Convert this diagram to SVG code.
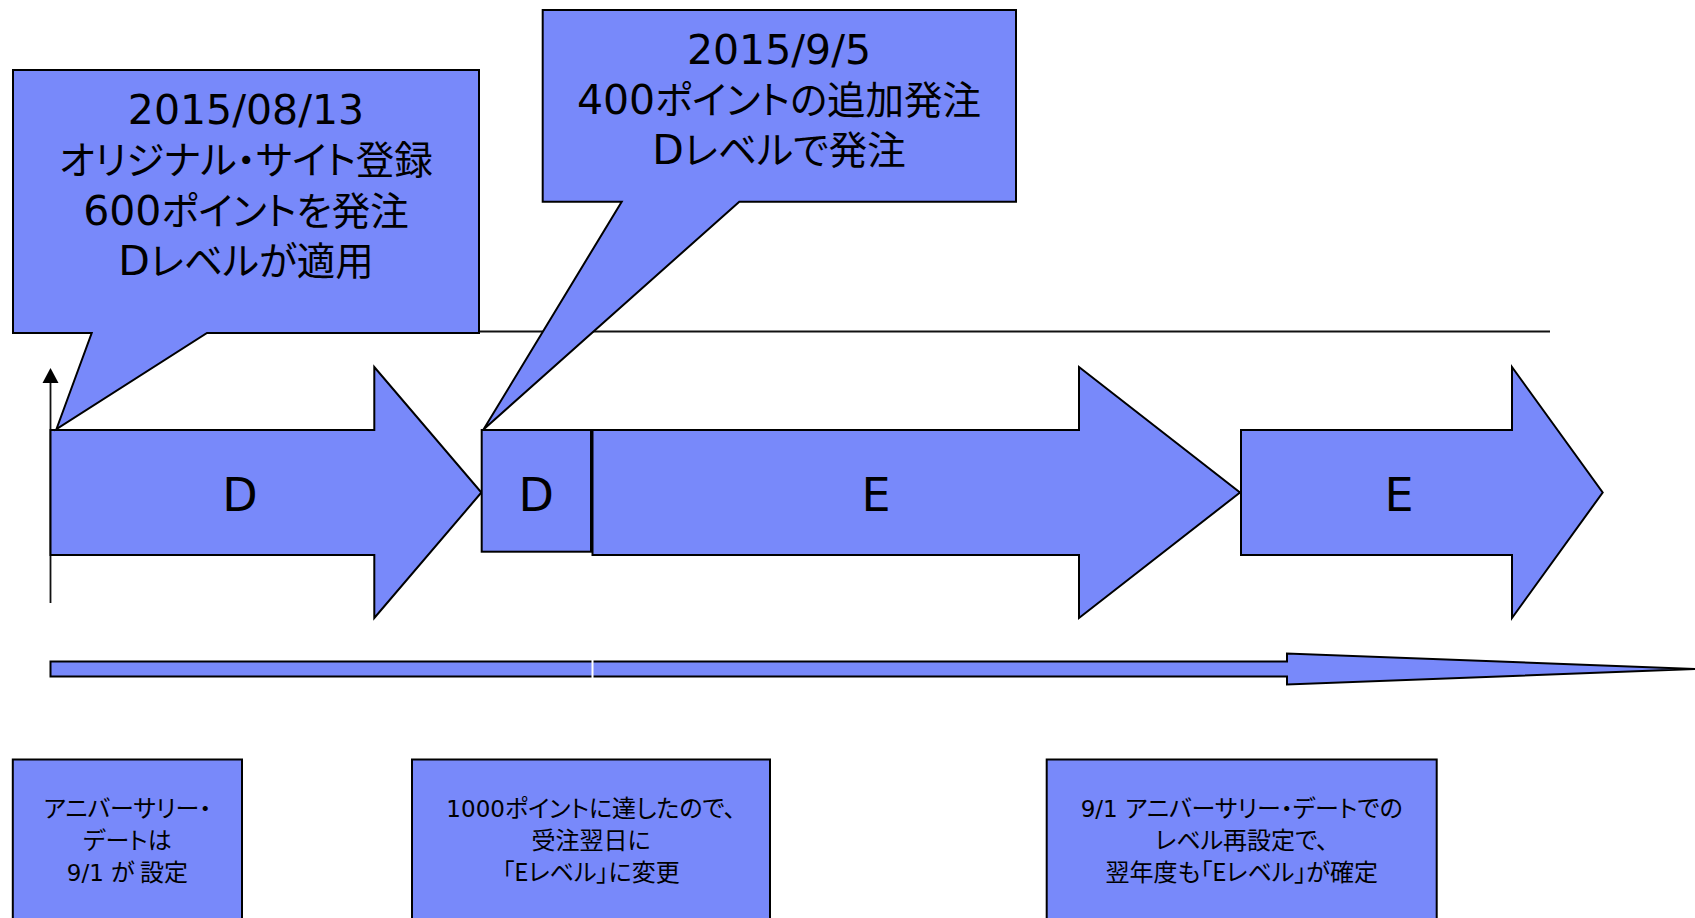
<svg xmlns="http://www.w3.org/2000/svg" width="1695" height="918" viewBox="0 0 1695 918">
<style>
.sh{fill:#7889fa;stroke:#000;stroke-width:2;stroke-linejoin:miter}
.ln{fill:none;stroke:#111;stroke-width:1.8}
.t{text-anchor:middle;fill:#000}
.la{font-family:"DejaVu Sans","Verdana",sans-serif}
.ja{font-family:"Noto Sans CJK JP","Noto Sans",sans-serif;font-feature-settings:"palt" 1}
.big{font-size:41px}
.bj{font-size:38.5px}
.lbl{font-size:46px;font-family:"DejaVu Sans","Verdana",sans-serif}
.sl{font-size:23px}
.sj{font-size:24px}
</style>
<rect width="1695" height="918" fill="#fff"/>
<g id="connectors">
<line class="ln" x1="479" y1="331.5" x2="1550" y2="331.5"/>
<line class="ln" x1="50.5" y1="603" x2="50.5" y2="380"/>
<polygon points="50.5,368 42.5,383 58.5,383" fill="#000"/>
</g>
<g id="arrow-d1">
<polygon class="sh" points="50.5,430 374.3,430 374.3,367 481.4,492.5 374.3,618 374.3,555 50.5,555"/>
<text class="t lbl" x="240" y="510.5">D</text>
</g>
<g id="box-d2">
<rect class="sh" x="481.7" y="430" width="109.3" height="121.7"/>
<text class="t lbl" x="536.3" y="510.5">D</text>
</g>
<g id="arrow-e1">
<polygon class="sh" points="592.5,430 1079,430 1079,367 1240,492.5 1079,618 1079,555 592.5,555"/>
<text class="t lbl" x="876" y="510.5">E</text>
</g>
<g id="arrow-e2">
<polygon class="sh" points="1241,430 1512,430 1512,367 1602.7,492.5 1512,618 1512,555 1241,555"/>
<text class="t lbl" x="1399" y="510.5">E</text>
</g>
<g id="timeline">
<polygon class="sh" points="50.5,661.5 1287,661.5 1287,653.5 1695,669 1287,684.5 1287,676.5 50.5,676.5"/>
<line x1="592.5" y1="659" x2="592.5" y2="679" stroke="#fff" stroke-width="2"/>
</g>
<g id="callout1">
<path class="sh" d="M13,70 H479 V333 H207 L56.5,429 L91.7,333 H13 Z"/>
<text class="t" x="246" y="123.5"><tspan class="la big">2015/08/13</tspan></text>
<text class="t" x="246" y="174"><tspan class="ja bj">オリジナル・サイト登録</tspan></text>
<text class="t" x="246" y="224.5"><tspan class="la big">600</tspan><tspan class="ja bj">ポイントを発注</tspan></text>
<text class="t" x="246" y="274.5"><tspan class="la big">D</tspan><tspan class="ja bj">レベルが適用</tspan></text>
</g>
<g id="callout2">
<path class="sh" d="M542.7,10 H1016 V201.7 H739.3 L483.5,429.5 L621.7,201.7 H542.7 Z"/>
<text class="t" x="779" y="63.5"><tspan class="la big">2015/9/5</tspan></text>
<text class="t" x="779" y="113.5"><tspan class="la big">400</tspan><tspan class="ja bj">ポイントの追加発注</tspan></text>
<text class="t" x="779" y="163.5"><tspan class="la big">D</tspan><tspan class="ja bj">レベルで発注</tspan></text>
</g>
<g id="note1">
<rect class="sh" x="12.8" y="759.5" width="229.2" height="200"/>
<text class="t" x="127.4" y="817"><tspan class="ja sj">アニバーサリー・</tspan></text>
<text class="t" x="127.4" y="849"><tspan class="ja sj">デートは</tspan></text>
<text class="t" x="127.4" y="881"><tspan class="la sl">9/1 </tspan><tspan class="ja sj">が 設定</tspan></text>
</g>
<g id="note2">
<rect class="sh" x="412" y="759.5" width="358" height="200"/>
<text class="t" x="591" y="817"><tspan class="la sl">1000</tspan><tspan class="ja sj">ポイントに達したので、</tspan></text>
<text class="t" x="591" y="849"><tspan class="ja sj">受注翌日に</tspan></text>
<text class="t" x="591" y="881"><tspan class="ja sj">「Eレベル」に変更</tspan></text>
</g>
<g id="note3">
<rect class="sh" x="1046.7" y="759.5" width="390" height="200"/>
<text class="t" x="1241.7" y="817"><tspan class="la sl">9/1 </tspan><tspan class="ja sj">アニバーサリー・デートでの</tspan></text>
<text class="t" x="1241.7" y="849"><tspan class="ja sj">レベル再設定で、</tspan></text>
<text class="t" x="1241.7" y="881"><tspan class="ja sj">翌年度も「Eレベル」が確定</tspan></text>
</g>
</svg>
